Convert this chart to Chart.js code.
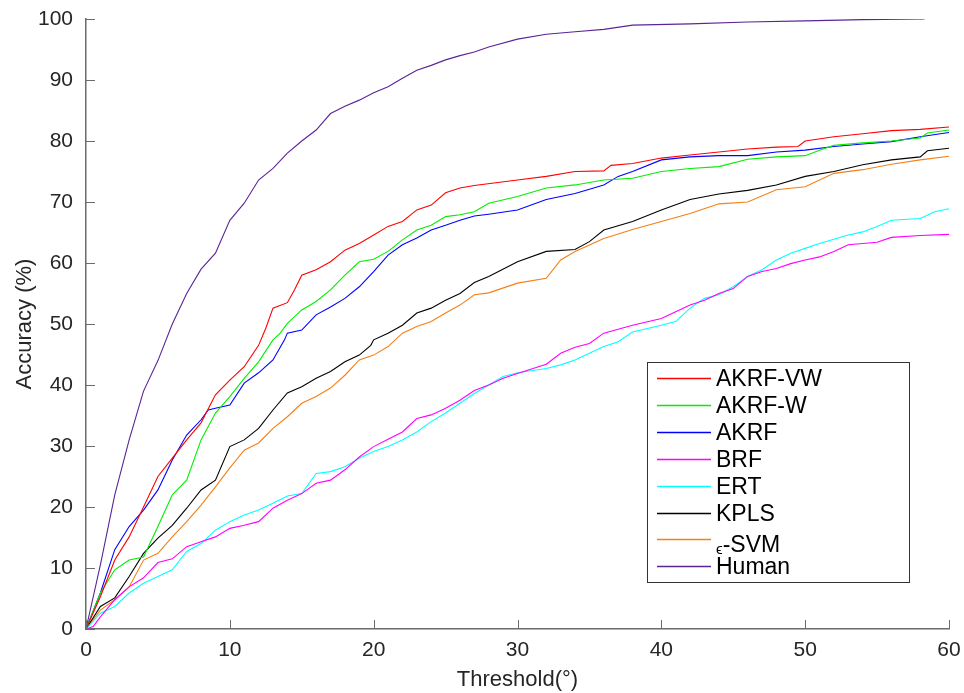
<!DOCTYPE html>
<html>
<head>
<meta charset="utf-8">
<script src="https://cdn.jsdelivr.net/npm/chart.js@4/dist/chart.umd.min.js"></script>
<style>
  html, body { margin: 0; padding: 0; background: #ffffff; }
  #wrap { width: 964px; height: 693px; }
</style>
</head>
<body>
<div id="wrap"><canvas id="c" width="964" height="693"></canvas></div>
<script>
// ---- Data ----
const seriesLabels = ["AKRF-VW", "AKRF-W", "AKRF", "BRF", "ERT", "KPLS", "\u03F5-SVM", "Human"];

const xTicks = [0, 10, 20, 30, 40, 50, 60];
const yTicks = [0, 10, 20, 30, 40, 50, 60, 70, 80, 90, 100];

const akrfVwX = [0,1,2,3,4,5,6,7,8,9,10,11,12,12.5,13,14,14.5,15,16,17,18,19,20,21,22,23,24,25,26,27,30,32,34,36,36.5,38,40,42,44,46,48,49.5,50,52,54,56,58,60];
const akrfVwY = [0,5.3,11.3,15.1,20,25,28,31,33.8,38.4,40.8,43,46.5,49.3,52.6,53.5,55.6,58,58.9,60.2,62.1,63.2,64.6,66,66.8,68.7,69.5,71.5,72.3,72.7,73.6,74.2,75,75.1,76,76.3,77.2,77.7,78.2,78.7,79,79.1,80,80.7,81.2,81.7,81.9,82.3];

const akrfWX = [0,1,2,3,4,5,6,7,8,9,10,11,12,13,13.5,14,15,16,17,18,19,20,21,22,23,24,25,26,27,28,30,32,34,36,38,40,42,44,46,48,50,51,52,54,56,58,58.5,60];
const akrfWY = [0,5.9,9.7,11.3,11.8,16.8,22,24.4,31,35.4,38.1,41.1,43.8,47.4,48.5,50.1,52.3,53.7,55.6,58,60.2,60.6,61.9,63.8,65.4,66.2,67.6,67.9,68.4,69.8,70.9,72.3,72.8,73.6,73.9,75,75.5,75.8,77,77.4,77.6,78.5,79.3,79.7,80,80.5,81.3,81.8];

const akrfX = [0,1,2,3,4,5,6,7,8,8.5,9,10,11,12,13,13.8,14,15,16,17,18,19,20,21,22,23,24,25,26,27,28,30,32,34,36,37,38,40,42,44,46,48,50,52,54,56,58,60];
const akrfY = [0,5.9,13,16.8,19.5,22.8,27.7,31.8,34.3,35.9,36.2,36.7,40.3,42,44.1,47.4,48.5,49,51.5,52.8,54.2,56.1,58.6,61.3,63,64.1,65.4,66.2,67,67.7,68,68.7,70.4,71.4,72.8,74.2,75,76.9,77.4,77.6,77.6,78.2,78.5,79.1,79.5,79.9,80.7,81.4];

const brfX = [0,0.5,1,2,3,4,5,6,7,8,9,10,11,12,13,14,15,16,17,18,19,20,21,22,23,24,25,26,27,28,29,30,32,33,34,35,36,38,40,41,42,43,44,45,46,47,48,49,50,51,52,53,54,55,56,58,60];
const brfY = [0,0.4,2,4.8,6.9,8.4,10.9,11.5,13.5,14.3,15.1,16.5,17,17.6,19.8,21.1,22.2,23.9,24.4,26.1,28.2,29.9,31.1,32.3,34.5,35.1,36.2,37.5,39.1,40,41.1,41.9,43.4,45.2,46.2,46.8,48.5,49.8,50.9,52,53.1,53.9,55,55.8,57.8,58.6,59.1,59.9,60.5,61,61.9,63,63.2,63.4,64.2,64.5,64.7];

const ertX = [0,1,2,3,4,5,6,7,8,9,10,11,12,13,14,15,16,17,18,19,20,21,22,23,24,25,26,27,28,29,30,32,33,34,35,36,37,38,40,41,42,43,44,45,46,47,48,49,50,51,52,53,54,55,56,58,59,60];
const ertY = [0,2.6,3.7,5.9,7.5,8.6,9.7,12.7,14,16.2,17.6,18.7,19.5,20.6,21.8,22.2,25.5,25.8,26.6,28,29.1,29.9,31,32.3,34,35.4,37,38.6,40,41.4,42,42.7,43.3,44.1,45.2,46.3,47.1,48.7,49.8,50.4,52.6,54.2,54.8,56.1,57.8,58.9,60.5,61.6,62.4,63.2,63.9,64.6,65.1,66,67,67.3,68.4,68.9];

const kplsX = [0,1,2,3,4,5,6,7,8,9,10,11,12,13,14,15,16,17,18,19,19.8,20,21,22,23,24,25,26,27,28,30,32,34,35,36,38,40,42,44,46,48,50,52,54,56,58,58.5,60];
const kplsY = [0,3.7,5.1,8.6,12.4,14.9,17,19.8,22.8,24.4,29.9,31,32.9,35.9,38.7,39.7,41.1,42.2,43.8,44.9,46.5,47.4,48.5,49.8,51.8,52.6,53.9,55,56.8,57.8,60.2,61.9,62.2,63.5,65.4,66.8,68.7,70.4,71.3,71.9,72.8,74.2,75,76.1,76.9,77.4,78.4,78.8];

const svmX = [0,1,2,3,4,5,6,7,8,9,10,11,12,13,14,15,16,17,18,19,20,21,22,23,24,25,26,27,28,30,32,33,34,36,38,40,42,44,46,48,50,52,54,56,58,60];
const svmY = [0,3.1,4.8,6.9,11.3,12.4,15.1,17.6,20.3,23.3,26.4,29.3,30.5,32.9,34.8,37,38.1,39.5,41.6,44.1,44.9,46.3,48.5,49.6,50.4,51.8,53.1,54.8,55.1,56.7,57.5,60.5,61.9,64,65.5,66.8,68.1,69.7,70,72,72.5,74.7,75.3,76.2,76.9,77.5];

const humanX = [0,1,2,3,4,5,6,7,8,9,10,11,12,13,14,15,16,17,18,19,20,21,22,23,24,25,26,27,28,30,32,34,36,38,42,46,50,54,58.3];
const humanY = [0,10.5,22,31,39,44,50,55,59,61.6,67,69.8,73.6,75.5,78,80,81.8,84.5,85.7,86.7,87.9,88.9,90.3,91.6,92.4,93.3,94,94.6,95.4,96.7,97.5,97.9,98.3,99,99.2,99.5,99.7,99.9,100];

// ---- Styling ----
const colors = ["#ff0000", "#00ee00", "#0000ff", "#ff00ff", "#00ffff", "#000000", "#f57f17", "#5a2596"];
const FONT = "'Liberation Sans', Arial, Helvetica, sans-serif";
const AXIS_COLOR = "#6b6b6b";
const TEXT_COLOR = "#262626";

function pts(xs, ys) { return xs.map((x, i) => ({ x: x, y: ys[i] })); }

const seriesData = [
  pts(akrfVwX, akrfVwY), pts(akrfWX, akrfWY), pts(akrfX, akrfY), pts(brfX, brfY),
  pts(ertX, ertY), pts(kplsX, kplsY), pts(svmX, svmY), pts(humanX, humanY)
];

const datasets = seriesLabels.map((lab, i) => ({
  label: lab,
  data: seriesData[i],
  borderColor: colors[i],
  backgroundColor: colors[i],
  borderWidth: 1.1,
  pointRadius: 0,
  tension: 0,
  fill: false
}));

// inward tick marks, MATLAB style
const inwardTicks = {
  id: 'inwardTicks',
  afterDatasetsDraw(chart) {
    const ctx = chart.ctx;
    const xs = chart.scales.x, ys = chart.scales.y;
    const L = 9;
    ctx.save();
    ctx.strokeStyle = AXIS_COLOR;
    ctx.lineWidth = 1;
    xTicks.forEach(v => {
      const px = Math.round(xs.getPixelForValue(v)) + 0.5;
      ctx.beginPath(); ctx.moveTo(px, ys.bottom); ctx.lineTo(px, ys.bottom - L); ctx.stroke();
    });
    yTicks.forEach(v => {
      const py = Math.round(ys.getPixelForValue(v)) + 0.5;
      ctx.beginPath(); ctx.moveTo(xs.left, py); ctx.lineTo(xs.left + L, py); ctx.stroke();
    });
    ctx.restore();
  }
};

// legend box drawn inside the plot area (lower right)
const innerLegend = {
  id: 'innerLegend',
  afterDraw(chart) {
    const ctx = chart.ctx;
    const a = chart.chartArea;
    const bx = a.left + 561, by = a.top + 343, bw = 262, bh = 220;
    ctx.save();
    ctx.fillStyle = '#ffffff';
    ctx.fillRect(bx, by, bw, bh);
    ctx.strokeStyle = '#333333';
    ctx.lineWidth = 1;
    ctx.strokeRect(bx + 0.5, by + 0.5, bw, bh);
    const rowY0 = by + 16, rowStep = 26.9;
    chart.data.datasets.forEach((ds, i) => {
      const cy = Math.round(rowY0 + i * rowStep) + 0.5;
      ctx.strokeStyle = ds.borderColor;
      ctx.lineWidth = 1.5;
      ctx.beginPath(); ctx.moveTo(bx + 10, cy); ctx.lineTo(bx + 64, cy); ctx.stroke();
      ctx.fillStyle = '#000000';
      ctx.textBaseline = 'middle';
      ctx.textAlign = 'left';
      if (ds.label.charAt(0) === '\u03F5') {
        ctx.font = "15px " + FONT;
        ctx.fillText(ds.label.charAt(0), bx + 69, cy + 10);
        const w = ctx.measureText(ds.label.charAt(0)).width;
        ctx.font = "23px " + FONT;
        ctx.fillText(ds.label.slice(1), bx + 69 + w, cy + 6);
      } else {
        ctx.font = "23px " + FONT;
        ctx.fillText(ds.label, bx + 69, cy + 1);
      }
    });
    ctx.restore();
  }
};

new Chart(document.getElementById('c'), {
  type: 'line',
  data: { datasets: datasets },
  options: {
    responsive: false,
    animation: false,
    layout: { padding: { left: 0, top: 19, right: 15, bottom: 0 } },
    plugins: {
      legend: { display: false },
      tooltip: { enabled: false }
    },
    scales: {
      x: {
        type: 'linear',
        min: 0, max: 60,
        afterFit(scale) { scale.height = 64; scale.paddingLeft = 0; scale.paddingRight = 0; },
        afterBuildTicks(scale) { scale.ticks = xTicks.map(v => ({ value: v })); },
        grid: { display: false, drawTicks: false, tickLength: 0 },
        border: { display: true, color: AXIS_COLOR, width: 1.5 },
        ticks: {
          color: TEXT_COLOR, padding: 9, maxRotation: 0,
          font: { family: FONT, size: 21 }
        },
        title: {
          display: true, text: 'Threshold(\u00B0)', color: TEXT_COLOR,
          font: { family: FONT, size: 22, lineHeight: 1.2 },
          padding: { top: 7, bottom: 0 }
        }
      },
      y: {
        type: 'linear',
        min: 0, max: 100,
        afterFit(scale) { scale.width = 86; scale.paddingTop = 0; scale.paddingBottom = 0; },
        afterBuildTicks(scale) { scale.ticks = yTicks.map(v => ({ value: v })); },
        grid: { display: false, drawTicks: false, tickLength: 0 },
        border: { display: true, color: AXIS_COLOR, width: 1.5 },
        ticks: {
          color: TEXT_COLOR, padding: 13,
          font: { family: FONT, size: 21 }
        },
        title: {
          display: true, text: 'Accuracy (%)', color: TEXT_COLOR,
          font: { family: FONT, size: 22, lineHeight: 1.2 },
          padding: { top: 12, bottom: 0 }
        }
      }
    }
  },
  plugins: [inwardTicks, innerLegend]
});
</script>
</body>
</html>
